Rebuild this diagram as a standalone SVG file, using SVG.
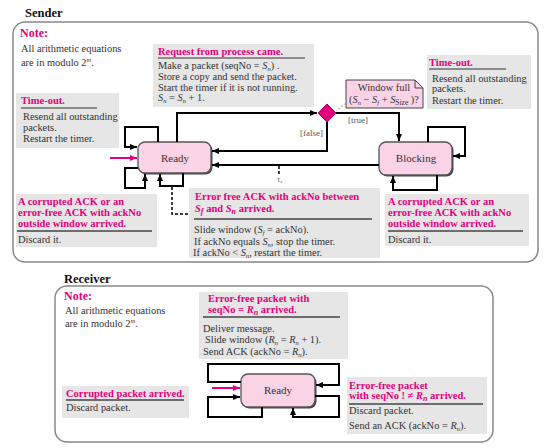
<svg xmlns="http://www.w3.org/2000/svg" width="551" height="448" viewBox="0 0 551 448">
<defs>
<marker id="a" markerUnits="userSpaceOnUse" markerWidth="8" markerHeight="7" refX="7" refY="3" orient="auto"><path d="M0,0 L7,3 L0,6 z" fill="#000"/></marker>
<marker id="ap" markerUnits="userSpaceOnUse" markerWidth="8" markerHeight="7" refX="7" refY="3" orient="auto"><path d="M0,0 L7,3 L0,6 z" fill="#e4007c"/></marker>
<style>
.t{font-family:"Liberation Serif",serif;font-size:10.4px;fill:#333}
.h{font-family:"Liberation Serif",serif;font-size:10.5px;font-weight:bold;fill:#e4007c}
.ttl{font-family:"Liberation Serif",serif;font-size:12.5px;font-weight:bold;fill:#111}
.nt{font-family:"Liberation Serif",serif;font-size:12px;font-weight:bold;fill:#e4007c}
.box{fill:#e6e6e6}
.sep{stroke:#444;stroke-width:1.5}
.ul{stroke:#333;stroke-width:1}
.st{fill:#fbd3e6;stroke:#555;stroke-width:1.3}
.sh{fill:#444}
.sl{font-family:"Liberation Serif",serif;font-size:11px;fill:#333;text-anchor:middle}
.frame{fill:#fff;stroke:#888;stroke-width:1.5}
.c{fill:none;stroke:#000;stroke-width:2;marker-end:url(#a)}
.cp{fill:none;stroke:#e4007c;stroke-width:2;marker-end:url(#ap)}
.d{fill:none;stroke:#000;stroke-width:1.5;stroke-dasharray:3,2}
.g{font-family:"Liberation Serif",serif;font-size:9px;fill:#555}
.i{font-style:italic}
.s{font-style:italic;font-size:6.5px}
</style>
</defs>
<rect width="551" height="448" fill="#fff"/>

<g id="sender-frame">
<rect class="frame" x="13" y="22" width="525" height="240" rx="12"/>
<text class="ttl" x="25" y="17">Sender</text>
</g>

<g id="sender-note">
<text class="nt" x="20" y="37">Note:</text>
<text class="t" x="21" y="52">All arithmetic equations</text>
<text class="t" x="21" y="66">are in modulo 2<tspan class="s" font-size="7" dy="-4">m</tspan><tspan dy="4">.</tspan></text>
</g>

<g id="request-box">
<rect class="box" x="153" y="44" width="161" height="63"/>
<text class="h" x="158" y="55">Request from process came.</text>
<line class="ul" x1="158" y1="58" x2="305" y2="58"/>
<text class="t" x="158" y="69">Make a packet (seqNo = <tspan class="i">S</tspan><tspan class="s" dy="1.5">n</tspan><tspan dy="-1.5">) .</tspan></text>
<text class="t" x="158" y="80">Store a copy and send the packet.</text>
<text class="t" x="158" y="91">Start the timer if it is not running.</text>
<text class="t" x="158" y="101"><tspan class="i">S</tspan><tspan class="s" dy="1.5">n</tspan><tspan dy="-1.5"> = </tspan><tspan class="i">S</tspan><tspan class="s" dy="1.5">n</tspan><tspan dy="-1.5"> + 1.</tspan></text>
</g>

<g id="timeout-left">
<rect class="box" x="16" y="93" width="103" height="55"/>
<text class="h" x="21" y="104">Time-out.</text>
<line class="ul" x1="21" y1="108" x2="97" y2="108"/>
<text class="t" x="23" y="120">Resend all outstanding</text>
<text class="t" x="23" y="131">packets.</text>
<text class="t" x="23" y="142">Restart the timer.</text>
</g>

<g id="timeout-right">
<rect class="box" x="427" y="55" width="104" height="54"/>
<text class="h" x="429" y="66">Time-out.</text>
<line class="ul" x1="429" y1="69" x2="506" y2="69"/>
<text class="t" x="432" y="82">Resend all outstanding</text>
<text class="t" x="432" y="92">packets.</text>
<text class="t" x="432" y="104">Restart the timer.</text>
</g>

<g id="window-full-note">
<path d="M346,80 H415 L423,88 V108 H346 Z" fill="#fbd3e6" stroke="#444" stroke-width="1"/>
<path d="M415,80 V88 H423" fill="none" stroke="#444" stroke-width="1"/>
<text class="t" x="384" y="91" text-anchor="middle" font-size="9.5">Window full</text>
<text class="t" x="384" y="103" text-anchor="middle" font-size="9.5">(<tspan class="i">S</tspan><tspan class="s" dy="1.5">n</tspan><tspan dy="-1.5"> − </tspan><tspan class="i">S</tspan><tspan class="s" dy="1.5">f</tspan><tspan dy="-1.5"> + </tspan><tspan class="i">S</tspan><tspan font-size="7.5" dy="1.5">Size</tspan><tspan dy="-1.5"> )?</tspan></text>
</g>

<g id="decision">
<path d="M327,104 L336,113 L327,122 L318,113 Z" fill="#e4007c" stroke="#b0005f" stroke-width="1"/>
</g>

<g id="state-ready-sender">
<rect class="sh" x="139.5" y="143.5" width="73" height="31" rx="7"/>
<rect class="st" x="138" y="142" width="73" height="31" rx="7"/>
<text class="sl" x="175" y="162">Ready</text>
</g>

<g id="state-blocking">
<rect class="sh" x="380.5" y="143.5" width="73" height="33" rx="7"/>
<rect class="st" x="379" y="142" width="73" height="33" rx="7"/>
<text class="sl" x="416" y="162">Blocking</text>
</g>

<g id="corrupted-left">
<rect class="box" x="16" y="194" width="141" height="53"/>
<text class="h" x="18" y="205">A corrupted ACK or an</text>
<text class="h" x="18" y="216">error-free ACK with ackNo</text>
<text class="h" x="18" y="227">outside window arrived.</text>
<line class="sep" x1="17" y1="231" x2="152" y2="231"/>
<text class="t" x="18" y="243">Discard it.</text>
</g>

<g id="errorfree-ack">
<rect class="box" x="189" y="188" width="191" height="70"/>
<text class="h" x="195" y="200">Error free ACK with ackNo between</text>
<text class="h" x="195" y="212"><tspan class="i">S</tspan><tspan class="i" font-size="8" dy="1.5">f</tspan><tspan dy="-1.5"> and  </tspan><tspan class="i">S</tspan><tspan class="i" font-size="8" dy="1.5">n</tspan><tspan dy="-1.5"> arrived.</tspan></text>
<line class="sep" x1="194" y1="219" x2="372" y2="219"/>
<text class="t" x="194" y="233">Slide window (<tspan class="i">S</tspan><tspan class="s" dy="1.5">f</tspan><tspan dy="-1.5"> = ackNo).</tspan></text>
<text class="t" x="194" y="245">If ackNo equals <tspan class="i">S</tspan><tspan class="s" dy="1.5">n</tspan><tspan dy="-1.5">, stop the timer.</tspan></text>
<text class="t" x="193" y="256">If ackNo &lt; <tspan class="i">S</tspan><tspan class="s" dy="1.5">n</tspan><tspan dy="-1.5">, restart the timer.</tspan></text>
</g>

<g id="corrupted-right">
<rect class="box" x="385" y="194" width="144" height="52"/>
<text class="h" x="388" y="205">A corrupted ACK or an</text>
<text class="h" x="388" y="216">error-free ACK with ackNo</text>
<text class="h" x="388" y="227">outside window arrived.</text>
<line class="sep" x1="388" y1="231" x2="523" y2="231"/>
<text class="t" x="388" y="243">Discard it.</text>
</g>

<g id="receiver-frame">
<rect class="frame" x="55" y="286" width="438" height="156" rx="12"/>
<text class="ttl" x="64" y="283">Receiver</text>
</g>

<g id="receiver-note">
<text class="nt" x="64" y="300">Note:</text>
<text class="t" x="65" y="314">All arithmetic equations</text>
<text class="t" x="65" y="327">are in modulo 2<tspan class="s" font-size="7" dy="-4">m</tspan><tspan dy="4">.</tspan></text>
</g>

<g id="errorfree-packet">
<rect class="box" x="199" y="292" width="149" height="67"/>
<text class="h" x="208" y="302">Error-free packet with</text>
<text class="h" x="208" y="313">seqNo = <tspan class="i">R</tspan><tspan class="i" font-size="8" dy="1.5">n</tspan><tspan dy="-1.5"> arrived.</tspan></text>
<line class="sep" x1="203" y1="317" x2="340" y2="317"/>
<text class="t" x="203" y="332">Deliver message.</text>
<text class="t" x="205" y="343">Slide window (<tspan class="i">R</tspan><tspan class="s" dy="1.5">n</tspan><tspan dy="-1.5"> = </tspan><tspan class="i">R</tspan><tspan class="s" dy="1.5">n</tspan><tspan dy="-1.5"> + 1).</tspan></text>
<text class="t" x="203" y="355">Send ACK (ackNo = <tspan class="i">R</tspan><tspan class="s" dy="1.5">n</tspan><tspan dy="-1.5">).</tspan></text>
</g>

<g id="corrupted-packet">
<rect class="box" x="62" y="386" width="127" height="32"/>
<text class="h" x="66" y="397">Corrupted packet arrived.</text>
<line class="sep" x1="66" y1="400" x2="184" y2="400"/>
<text class="t" x="66" y="411">Discard packet.</text>
</g>

<g id="errorfree-other">
<rect class="box" x="347" y="377" width="140" height="57"/>
<text class="h" x="349" y="389">Error-free packet</text>
<text class="h" x="349" y="399">with seqNo ! ≠ <tspan class="i">R</tspan><tspan class="i" font-size="8" dy="1.5">n</tspan><tspan dy="-1.5"> arrived.</tspan></text>
<line class="sep" x1="349" y1="404" x2="483" y2="404"/>
<text class="t" x="349" y="414">Discard packet.</text>
<text class="t" x="349" y="429">Send an ACK (ackNo = <tspan class="i">R</tspan><tspan class="s" dy="1.5">n</tspan><tspan dy="-1.5">).</tspan></text>
</g>

<g id="state-ready-receiver">
<rect class="sh" x="242.5" y="375.5" width="74" height="33" rx="7"/>
<rect class="st" x="241" y="374" width="74" height="33" rx="7"/>
<text class="sl" x="278" y="394">Ready</text>
</g>

<g id="connectors">
<path class="cp" d="M110,158 H137"/>
<path class="c" d="M158,142 V127 H125 V147 H137"/>
<path class="c" d="M138,168 H125 V188 H145 V174"/>
<path class="c" d="M183,173 V186 H160 V174"/>
<path class="c" d="M177,142 V113 H317"/>
<path class="c" d="M327,122 V151 H212"/>
<path class="c" d="M336,113 H399 V141"/>
<path class="c" d="M379,165 H212"/>
<path class="c" d="M428,142 V127 H465 V156 H453"/>
<path class="c" d="M437,175 V190 H393 V176"/>
<path d="M346,103 L336,111" fill="none" stroke="#888" stroke-width="1" stroke-dasharray="2,2"/>
<path class="d" d="M172,187 V214 H188"/>
<path class="d" d="M279,166 V176"/>
<text x="277" y="182" font-family="Liberation Serif,serif" font-size="5.5" fill="#333">T<tspan font-size="4" dy="1">s</tspan></text>
<text class="g" x="348" y="123">[true]</text>
<text class="g" x="300" y="136">[false]</text>
<path class="cp" d="M212,388 H240"/>
<path class="c" d="M241,382 H208 V364 H339 V385 H316"/>
<path class="c" d="M262,407 V417 H208 V397 H240"/>
<path class="c" d="M315,396 H339 V417 H293 V408"/>
</g>
</svg>
